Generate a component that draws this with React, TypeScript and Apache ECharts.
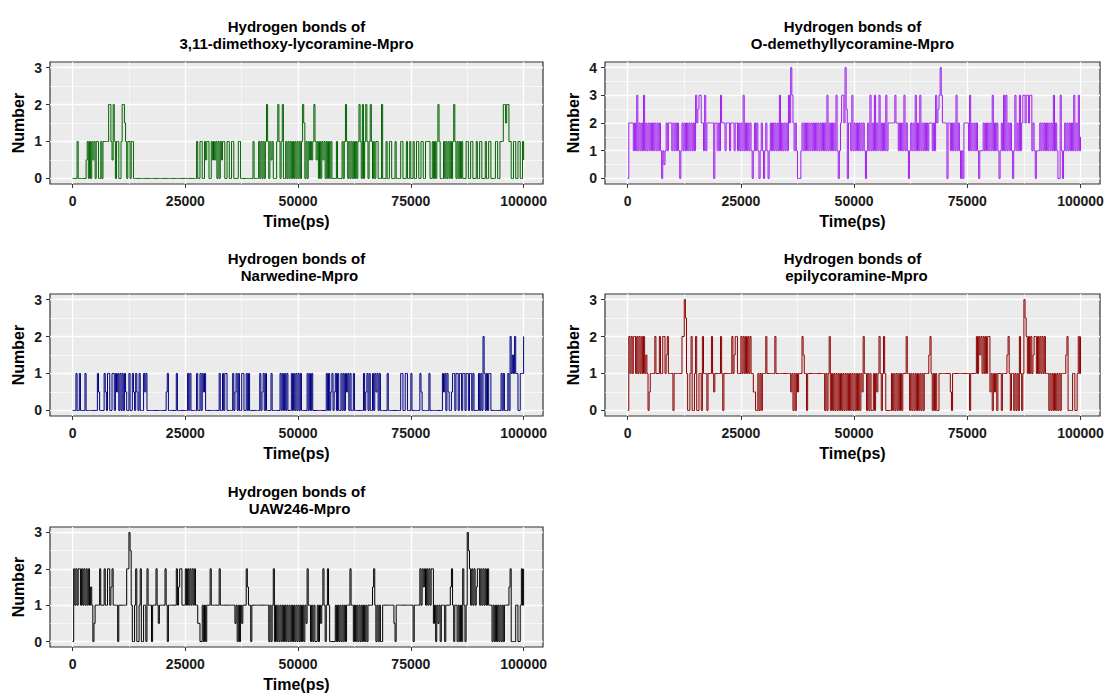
import React, { useEffect, useRef } from "react";
import * as echarts from "echarts";

// ---- data (hydrogen-bond counts every 250 ps) ----
const STEP_PS = 250;
const xTickValues = [0, 25000, 50000, 75000, 100000];
const xMinorValues = [12500, 37500, 62500, 87500];
const yTicks3 = [0, 1, 2, 3];
const yMinor3 = [0.5, 1.5, 2.5];
const yTicks4 = [0, 1, 2, 3, 4];
const yMinor4 = [0.5, 1.5, 2.5, 3.5];

const titleLine1 = "Hydrogen bonds of";
const panelNames = [
  "3,11-dimethoxy-lycoramine-Mpro",
  "O-demethyllycoramine-Mpro",
  "Narwedine-Mpro",
  "epilycoramine-Mpro",
  "UAW246-Mpro",
];

const dimethoxyVals = [
  0,0, 0,0, 1,0, 0,0, 0,0, 0,0, 0.5,1, 0,1, 0,1, 0.5,1,
  0,1, 1,0, 0,1, 0,1, 1,1, 1,1, 2,2, 1,0.5, 2,1, 0,1,
  1,0, 0,1, 2,2, 1.5,1, 0,1, 1,0, 1,1, 0,0, 0,0, 0,0,
  0,0, 0,0, 0,0, 0,0, 0,0, 0,0, 0,0, 0,0, 0,0, 0,0,
  0,0, 0,0, 0,0, 0,0, 0,0, 0,0, 0,0, 0,0, 0,0, 0,0,
  0,0, 0,0, 0,0, 0,0, 0,0, 1,0, 0,1, 1,0, 0,1, 0.5,1,
  1,0, 0,1, 0.5,1, 0.5,1, 0,1, 0,1, 0.5,1, 1,0, 0,1, 1,0,
  0,1, 1,0, 0,0, 0,1, 1,0, 0,0, 0,0, 0,0, 0,0, 0,0,
  1,0, 0,0, 0,1, 0,1, 0,1, 0,1, 2,1, 0,1, 0.5,1, 0,0,
  0,1, 2,1, 0,1, 2,0, 0,1, 0,1, 0,1, 0,1, 0,1, 0,1,
  0,1, 0,1, 2,1.5, 0,1, 0,1, 0.5,1, 0.5,1, 2,1, 0.5,1, 0,1,
  0,1, 0.5,1, 0,1, 0,1, 0,1, 0,0, 0,0, 1,0, 0,0, 0,1,
  0,1, 2,1, 0,1, 0,1, 0,1, 0,1, 0,1, 2,1, 0,2, 0,1,
  2,1, 0,1, 2,1, 0,1, 0,1, 1,0, 0,0, 2,0, 0,0, 1,0,
  0,1, 1,0, 0,0, 1,0, 0,0, 0,1, 1,0, 0,0, 1,0, 0,1,
  0,0, 1,0, 0,1, 1,0, 0,1, 1,0, 0,1, 1,1, 1,0, 0,1,
  0,1, 0,1, 2,1, 0,0, 0,1, 0,1, 0,1, 0,1, 0,1, 2,1,
  0,1, 0,1, 0,1, 0,0, 0,1, 1,0, 0,1, 1,0, 0,0, 1,0,
  0,1, 1,0, 0,0, 1,0, 0,1, 1,0, 0,0, 0,1, 1,0, 0,1,
  1,1, 2,2, 1.5,2, 2,1, 1,0, 0,1, 1,0, 0,1, 1,0, 0,1,
  0.5,
];

const odemethylVals = [
  0,2, 2,2, 2,1, 2,1, 3,1, 2,1, 2,1, 3,1, 2,1, 2,1,
  2,1, 2,1, 2,1, 2,1, 2,1, 0,1, 0.5,1, 2,1, 2,2, 2,1,
  2,1, 2,1, 2,1, 0,1, 2,1, 2,1, 2,1, 2,1, 2,1, 2,1,
  3,2, 2.5,3, 3,2, 2,1, 3,1, 2,2, 2,2, 2,2, 0,2, 2,1,
  2,1, 3,2, 2,2, 1,2, 2,2, 1,2, 2,2, 1,2, 2,1, 2,1,
  2,1, 3,1, 2,1, 2,1, 2,1, 0,1, 2,1, 2,1, 0,1, 2,1,
  0,1, 2,1, 0,1, 2,1, 2,1, 2,1, 2,1, 3,1, 2,1, 2,1,
  2,1, 3,2, 4,3, 2,1, 2,1, 0,0, 0,1, 2,1, 2,1, 2,1,
  2,1, 2,1, 2,1, 2,1, 2,1, 2,1, 2,1, 2,1, 3,1, 2,1,
  2,1, 2,1, 3,1, 0,1, 2,3, 3,2, 4,2.5, 0,2, 2,1, 3,1,
  2,1, 2,1, 2,1, 2,1, 2,1, 0,1, 2,1, 3,1, 2,1, 3,1,
  2,1, 3,1, 2,1, 2,1, 3,1, 2,2, 2,2, 2,2, 3,2, 2,1,
  2,1, 2,1, 3,1, 2,1, 0,1, 2,1, 2,1, 3,1, 2,1, 3,1,
  2,1, 2,1, 2,1, 2,2, 2,1, 2,1, 3,2, 2.5,3, 4,3, 2,2,
  2,2, 0,2, 2,1, 2,1, 2,1, 3,1, 2,1, 0,1, 0,2, 2,2,
  2,1, 3,1, 2,1, 2,1, 2,1, 0,1, 1,1, 2,1, 2,1, 2,1,
  2,1, 3,1, 2,1, 2,1, 0,1, 2,1, 3,1, 3,1, 2,1, 2,1,
  0,1, 3,1, 2,1, 3,1, 2,3, 3,2, 3,3, 2,3, 3,1, 2,1,
  0,1, 1,1, 2,1, 2,1, 2,1, 2,1, 2,1, 2,1, 3,1, 2,1,
  0,0, 3,1, 0,1, 2,1, 2,1, 2,1, 2,1, 3,1, 2,1, 3,1,
  1.5,
];

const narwedineVals = [
  0,0, 0,1, 0,0, 1,0, 0,0, 0,1, 0,0, 0,0, 0,0, 0,0,
  0,0, 1,0.5, 0,0, 0,0, 1,0.5, 0,1, 1,0, 0,1, 1,0, 1,0.5,
  1,0, 1,0, 1,0, 1,0.5, 0,0, 1,0, 0,1, 0.5,0, 1,0.5, 0,1,
  0,0, 0,1, 0.5,1, 0,0, 0,0, 0,0, 0,0, 0,0, 0,0, 0,0,
  0,0, 0,0.5, 1,0, 0,0, 0,0, 0,0, 1,0, 0,0, 0,0, 0,0,
  0,0, 1,0, 1,0, 0,0, 0,0, 1,0, 0,1, 0,1, 0.5,1, 0,0,
  0,0, 0,0, 0,0, 0,0, 0,0, 1,0, 0,1, 0,1, 1,0, 0,0,
  0,0, 1,0, 0.5,1, 0,1, 0,0, 1,1, 0,0, 1,0, 1,0, 0,0,
  0,0, 0,0, 0,0, 1,0, 0.5,1, 0,1, 0,0, 0,0, 1,0, 0,0,
  0,0, 0,0, 1,0, 1,0, 1,0, 1,0, 0,0, 1,0, 1,0, 1,0,
  1,0, 1,0, 0,0, 0,0, 1,0, 1,0, 1,0, 0,0, 0,0, 0,0,
  0,0, 0,0, 0,1, 0,1, 0,0.5, 1,0, 0.5,1, 0,1, 0,0, 1,0,
  1,0, 1,0.5, 1,0, 1,0, 0,1, 0,0, 0,0, 0,0, 0,0, 1,0,
  0.5,1, 0,1, 0,0, 1,0, 1,0.5, 1,0, 1,0, 0,0, 0,0, 0,1,
  0,0, 0,0, 0,0, 0,0, 0,0, 0,1, 1,0, 0,1, 1,0, 0,0,
  1,0, 0,0, 0,0, 0,0, 1,0.5, 0,0, 0,0, 0,0, 1,0, 0,0,
  0,0, 0,0, 0,0, 0,0, 1,0.5, 1,0, 1,0.5, 0,0, 0.5,1, 1,0,
  1,1, 0,1, 1,0, 1,1, 0,1, 1,0, 1,1, 0,1, 0,0, 0,0,
  1,0, 1,0, 2,1, 0,1, 0,1, 1,0, 0,0, 0,0, 0,0, 0,0,
  1,0, 1,0, 0,0, 1,0, 2,1, 1.5,1, 2,1, 1,0, 0,1, 1,1,
  2,
];

const epilycoramineVals = [
  0,2, 1,2, 1,2, 2,1, 2,1, 2,1, 2,1, 2,1, 1.5,1, 0,0.5,
  1,1, 1,1, 2,1, 1,1, 2,1, 1,2, 2,1, 1.5,2, 1,1, 1,1,
  0,1, 1,1, 1,1, 1,1, 2,2, 3,2.5, 1,0, 0,1, 2,0, 0,1,
  2,0, 0,1, 1,0, 2,1, 1,1, 0,1, 1,1, 2,1, 0.5,1, 1,1,
  1,1, 2,1, 0,1, 1,1, 1,1, 1,1, 2,1, 1.5,2, 2,1, 1,1,
  2,1, 2,1, 2,1, 2,1, 2,1, 1,0.5, 0.5,0, 0,1, 0,1, 0,1,
  1,1, 2,1, 1,1, 1,1, 1,1, 2,1, 1,1, 1,1, 1,1, 1,1,
  1,1, 1,1, 0.5,1, 0,1, 0,1, 0.5,1, 1,1, 2,1.5, 1,1, 0,1,
  1,1, 1,1, 1,1, 1,1, 1,1, 1,1, 1,1, 0,1, 0,1, 2,0,
  1,0, 1,0, 1,0, 1,0, 1,0, 1,0, 1,0, 1,0, 1,0, 1,0,
  1,0, 1,0, 1,0, 1,0.5, 2,1, 1,0, 1,0, 1,0, 0,1, 0,1,
  0.5,1, 2,1, 0,1, 2,1, 0,0, 0,0, 0,1, 0,1, 0,1, 0,1,
  0,1, 0,1, 1,1, 2,1, 1,0, 1,0, 1,0, 1,0, 1,0, 1,0,
  1,0, 1,1, 1,1, 1.5,2, 1,0, 1,0, 1,0, 0,1, 1,1, 1,1,
  1,1, 1,1, 1,0.5, 0,1, 1,1, 1,1, 1,1, 1,1, 1,1, 1,1,
  1,1, 0,1, 1,1, 1,1, 2,1, 2,1.5, 2,1, 2,1, 2,1, 2,2,
  0.5,1, 0,1, 0.5,1, 0,1, 1,1, 0,1, 1,1, 1,1.5, 2,1, 0,1,
  1,0, 1,0, 1,0, 2,1, 0,1, 3,2.5, 2,1, 2,1, 2,1, 1.5,2,
  2,1, 2,1, 2,1, 2,1, 2,1, 1,1, 0,1, 0,1, 0,1, 0,1,
  0,1, 0,1, 1,1, 1,1.5, 2,0, 0,0, 0,1, 1,0, 0,1, 2,1,
  2,
];

const uaw246Vals = [
  0,2, 1,2, 1,2, 2,1, 2,1, 2,1, 2,1, 2,1, 1.5,1, 0,0.5,
  1,1, 1,1, 2,1, 1,1, 2,1, 1,2, 2,1, 1.5,2, 1,1, 1,1,
  0,1, 1,1, 1,1, 1,1, 2,2, 3,2.5, 1,0, 0,1, 2,0, 0,1,
  2,0, 0,1, 1,0, 2,1, 1,1, 0,1, 1,1, 2,1, 0.5,1, 1,1,
  1,1, 2,1, 0,1, 1,1, 1,1, 1,1, 2,1, 1.5,2, 2,1, 1,1,
  2,1, 2,1, 2,1, 2,1, 2,1, 1,0.5, 0.5,0, 0,1, 0,1, 0,1,
  1,1, 2,1, 1,1, 1,1, 1,1, 2,1, 1,1, 1,1, 1,1, 1,1,
  1,1, 1,1, 0.5,1, 0,1, 0,1, 0.5,1, 1,1, 2,1.5, 1,1, 0,1,
  1,1, 1,1, 1,1, 1,1, 1,1, 1,1, 1,1, 0,1, 0,1, 2,0,
  1,0, 1,0, 1,0, 1,0, 1,0, 1,0, 1,0, 1,0, 1,0, 1,0,
  1,0, 1,0, 1,0, 1,0.5, 2,1, 1,0, 1,0, 1,0, 0,1, 0,1,
  0.5,1, 2,1, 0,1, 2,1, 0,0, 0,0, 0,1, 0,1, 0,1, 0,1,
  0,1, 0,1, 1,1, 2,1, 1,0, 1,0, 1,0, 1,0, 1,0, 1,0,
  1,0, 1,1, 1,1, 1.5,2, 1,0, 1,0, 1,0, 0,1, 1,1, 1,1,
  1,1, 1,1, 1,0.5, 0,1, 1,1, 1,1, 1,1, 1,1, 1,1, 1,1,
  1,1, 0,1, 1,1, 1,1, 2,1, 2,1.5, 2,1, 2,1, 2,1, 2,2,
  0.5,1, 0,1, 0.5,1, 0,1, 1,1, 0,1, 1,1, 1,1.5, 2,1, 0,1,
  1,0, 1,0, 1,0, 2,1, 0,1, 3,2.5, 2,1, 2,1, 2,1, 1.5,2,
  2,1, 2,1, 2,1, 2,1, 2,1, 1,1, 0,1, 0,1, 0,1, 0,1,
  0,1, 0,1, 1,1, 1,1.5, 2,0, 0,0, 0,1, 1,0, 0,1, 2,1,
  2,
];

const seriesValues = [dimethoxyVals, odemethylVals, narwedineVals, epilycoramineVals, uaw246Vals];
const seriesColors = ["#006400", "#A020F0", "#000080", "#8B0000", "#000000"];
const seriesYMax = [3, 4, 3, 3, 3];

// ---- layout ----
const colLeft = [50, 605];
const colWidth = [493, 495];
const rowTop = [62, 294, 527];
const rowHeight = 122;
const panelPos = [
  { col: 0, row: 0, nameDx: 0 },
  { col: 1, row: 0, nameDx: 0 },
  { col: 0, row: 1, nameDx: 3 },
  { col: 1, row: 1, nameDx: 4 },
  { col: 0, row: 2, nameDx: 3 },
];

const FONT = '"Liberation Sans", Arial, Helvetica, sans-serif';

export default function App() {
  const ref = useRef<HTMLDivElement>(null);

  useEffect(() => {
    if (!ref.current) return;
    const chart = echarts.init(ref.current, undefined, { renderer: "svg" });

    const grids: any[] = [];
    const xAxes: any[] = [];
    const yAxes: any[] = [];
    const series: any[] = [];
    const graphics: any[] = [];

    panelPos.forEach((p, k) => {
      const left = colLeft[p.col];
      const width = colWidth[p.col];
      const top = rowTop[p.row];
      const yMax = seriesYMax[k];
      const pad = yMax * 0.05;
      const yTicks = yMax === 4 ? yTicks4 : yTicks3;
      const yMinor = yMax === 4 ? yMinor4 : yMinor3;

      grids.push({
        left,
        top,
        width,
        height: rowHeight,
        show: true,
        backgroundColor: "#EBEBEB",
        borderColor: "#333333",
        borderWidth: 1.2,
        containLabel: false,
      });

      const labelStyle = {
        fontFamily: FONT,
        fontWeight: "bold",
        fontSize: 14,
        color: "#1A1A1A",
      };

      xAxes.push({
        gridIndex: k,
        type: "value",
        min: -5000,
        max: 104300,
        axisLine: { show: false, onZero: false },
        axisTick: {
          show: true,
          length: 4,
          lineStyle: { color: "#333333", width: 1 },
          customValues: xTickValues,
        },
        axisLabel: {
          ...labelStyle,
          margin: 10,
          customValues: xTickValues,
          formatter: (v: number) => String(v),
        },
        splitLine: { show: false },
        name: "Time(ps)",
        nameLocation: "middle",
        nameGap: 29,
        nameTextStyle: { fontFamily: FONT, fontWeight: "bold", fontSize: 16, color: "#000" },
      });

      yAxes.push({
        gridIndex: k,
        type: "value",
        min: -pad,
        max: yMax + pad,
        axisLine: { show: false, onZero: false },
        axisTick: {
          show: true,
          length: 4,
          lineStyle: { color: "#333333", width: 1 },
          customValues: yTicks,
        },
        axisLabel: {
          ...labelStyle,
          margin: 8,
          customValues: yTicks,
          formatter: (v: number) => String(v),
        },
        splitLine: { show: false },
        name: "Number",
        nameLocation: "middle",
        nameGap: 24,
        nameTextStyle: { fontFamily: FONT, fontWeight: "bold", fontSize: 16, color: "#000" },
      });

      const major = { color: "#FFFFFF", width: 1.3, type: "solid" };
      const minor = { color: "#FFFFFF", width: 0.6, type: "solid" };
      const lines: any[] = [];
      xTickValues.forEach((v) => lines.push({ xAxis: v, lineStyle: major }));
      xMinorValues.forEach((v) => lines.push({ xAxis: v, lineStyle: minor }));
      yTicks.forEach((v) => lines.push({ yAxis: v, lineStyle: major }));
      yMinor.forEach((v) => lines.push({ yAxis: v, lineStyle: minor }));

      series.push({
        type: "line",
        xAxisIndex: k,
        yAxisIndex: k,
        data: [],
        z: 1,
        silent: true,
        markLine: {
          z: 1,
          silent: true,
          symbol: ["none", "none"],
          label: { show: false },
          emphasis: { disabled: true },
          animation: false,
          data: lines,
        },
      });

      series.push({
        type: "line",
        xAxisIndex: k,
        yAxisIndex: k,
        step: "end",
        showSymbol: false,
        symbol: "none",
        z: 10,
        lineStyle: { color: seriesColors[k], width: 1 },
        emphasis: { disabled: true },
        data: seriesValues[k].map((v, i) => [i * STEP_PS, v]),
      });

      const cx = left + width / 2;
      const titleFont = `bold 15px ${FONT}`;
      graphics.push({
        type: "text",
        x: cx,
        y: top - 36,
        style: { text: titleLine1, font: titleFont, fill: "#000", textAlign: "center", textVerticalAlign: "middle" },
      });
      graphics.push({
        type: "text",
        x: cx + p.nameDx,
        y: top - 19,
        style: { text: panelNames[k], font: titleFont, fill: "#000", textAlign: "center", textVerticalAlign: "middle" },
      });
    });

    chart.setOption({
      animation: false,
      backgroundColor: "#FFFFFF",
      grid: grids,
      xAxis: xAxes,
      yAxis: yAxes,
      series,
      graphic: graphics,
    });

    return () => chart.dispose();
  }, []);

  return (
    <div
      ref={ref}
      style={{ position: "absolute", left: 0, top: 0, width: 1107, height: 693 }}
    />
  );
}
